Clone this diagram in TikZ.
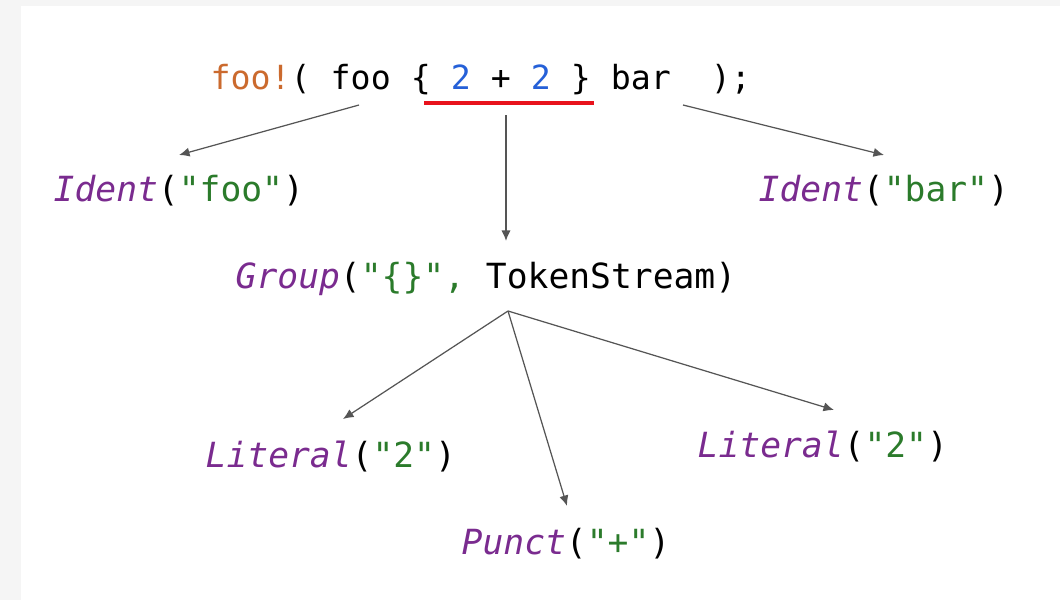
\documentclass[tikz,border=0pt]{standalone}
\usepackage{fontspec}
\setmonofont{DejaVu Sans Mono}
\usetikzlibrary{arrows.meta}
\definecolor{kworange}{HTML}{CB6A2E}
\definecolor{numblue}{HTML}{2560D8}
\definecolor{typurple}{HTML}{7A2B8F}
\definecolor{strgreen}{HTML}{2B7B2B}
\definecolor{ulred}{HTML}{E8121C}
\definecolor{arrowgrey}{HTML}{555555}
\definecolor{bggrey}{HTML}{F5F5F5}
\tikzset{
  code/.style={inner sep=0pt, anchor=base west, font=\ttfamily\fontsize{9.45pt}{11pt}\selectfont},
  label/.style={inner sep=0pt, anchor=base west, font=\ttfamily\fontsize{9.85pt}{11pt}\selectfont},
  edge/.style={draw=arrowgrey, line width=0.35pt, -{Latex[length=3pt,width=2.6pt]}},
}
\newcommand{\ty}[1]{{\color{typurple}\itshape #1}}
\newcommand{\st}[1]{{\color{strgreen}#1}}
\begin{document}
\begin{tikzpicture}[x=0.01cm,y=-0.01cm]
\useasboundingbox (0,0) rectangle (1060,600);
\fill[bggrey] (0,0) rectangle (1060,600);
\fill[white] (21,6) rectangle (1060,600);

\node[code] (src) at (210,90) {{\color{kworange}foo!}( foo \{ {\color{numblue}2} + {\color{numblue}2} \} bar\ \ );};
\coordinate (ulL) at (424,103);
\coordinate (ulR) at (594,103);
\draw[ulred, line width=1.1pt] (ulL) -- (ulR);

\node[label] (idfoo) at (53,201) {\ty{Ident}(\st{"foo"})};
\node[label] (idbar) at (758,201) {\ty{Ident}(\st{"bar"})};
\node[label] (group) at (235,288) {\ty{Group}(\st{"\{\}",} TokenStream)};
\node[label] (lit1) at (205,467) {\ty{Literal}(\st{"2"})};
\node[label] (lit2) at (697,457) {\ty{Literal}(\st{"2"})};
\node[label] (punct) at (461,554) {\ty{Punct}(\st{"+"})};

\coordinate (s1) at (359,105);
\coordinate (e1) at (179,155);
\coordinate (s2) at (506,115);
\coordinate (e2) at (506,241);
\coordinate (s3) at (683,105);
\coordinate (e3) at (884,155);
\coordinate (g) at (508,311);
\coordinate (f1) at (343,419);
\coordinate (f2) at (567,506);
\coordinate (f3) at (834,410);

\draw[edge] (s1) -- (e1);
\draw[edge] (s2) -- (e2);
\draw[edge] (s3) -- (e3);
\draw[edge] (g) -- (f1);
\draw[edge] (g) -- (f2);
\draw[edge] (g) -- (f3);
\end{tikzpicture}
\end{document}
